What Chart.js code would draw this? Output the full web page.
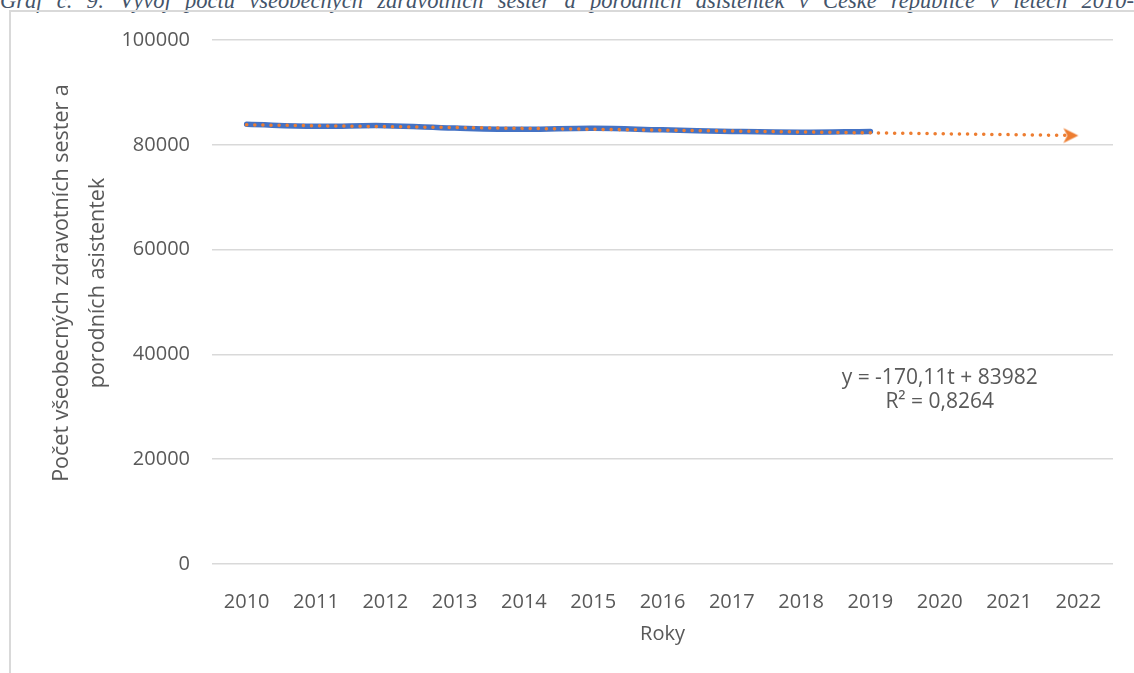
<!DOCTYPE html>
<html lang="cs">
<head>
<meta charset="utf-8">
<script src="https://cdn.jsdelivr.net/npm/chart.js@4/dist/chart.umd.min.js"></script>
<style>
  html, body { margin: 0; padding: 0; background: #fff; overflow: hidden; }
  #wrap { position: relative; width: 1134px; height: 673px; overflow: hidden; }
  #caption {
    position: absolute; left: 0; top: -12px; width: 1134px;
    font: italic 22.5px "Liberation Serif", "DejaVu Serif", serif;
    line-height: 26px; color: #44546A; white-space: nowrap;
    text-align: justify; text-align-last: justify;
  }
  #frame {
    position: absolute; left: 9px; top: 10px; right: -4px; bottom: -4px;
    border-top: 2px solid #D9D9D9; border-left: 2px solid #D9D9D9;
  }
  #chart { position: absolute; left: 0; top: 0; }
</style>
</head>
<body>
<div id="wrap">
  <div id="caption">Graf č. 9: Vývoj počtu všeobecných zdravotních sester a porodních asistentek v České republice v letech 2010-</div>
  <div id="frame"></div>
  <canvas id="chart" width="1134" height="673"></canvas>
</div>
<script>
// roky (osa x) – 2020-2022 jen pro prognózu trendu
const years = ['2010', '2011', '2012', '2013', '2014', '2015', '2016', '2017', '2018', '2019', '2020', '2021', '2022'];
// počet sester a porodních asistentek
const nurses = [83900, 83550, 83650, 83200, 82950, 83150, 82850, 82550, 82400, 82550];
// lineární trend: začátek (2010) a konec (2022)
const trendStart = 83810;
const trendEnd = 81770;
const yTicks = [0, 20000, 40000, 60000, 80000, 100000];
const yTitle = ['Počet všeobecných zdravotních sester a', 'porodních asistentek'];
const xTitle = 'Roky';
const equation = ['y = -170,11t + 83982', 'R² = 0,8264'];

const BLUE = '#4472C4';
const ORANGE = '#ED7D31';
const GREY = '#595959';
const FONT = '"Open Sans", "Noto Sans", sans-serif';

const trendData = years.map((_, i) => i === 0 ? trendStart : (i === years.length - 1 ? trendEnd : null));

// šipka na konci trendu – hrot je ve středu obrázku, aby končil přesně na bodě
const arrow = document.createElement('canvas');
arrow.width = 32; arrow.height = 18;
(function () {
  const c = arrow.getContext('2d');
  c.fillStyle = ORANGE;
  c.beginPath();
  c.moveTo(16, 9);
  c.lineTo(1, 1.5);
  c.lineTo(5, 9);
  c.lineTo(1, 16.5);
  c.closePath();
  c.fill();
})();
const arrowStyle = years.map((_, i) => i === years.length - 1 ? arrow : 'circle');
const arrowRadius = years.map((_, i) => i === years.length - 1 ? 8 : 0);

const extraText = {
  id: 'extraText',
  afterDraw(chart) {
    const { ctx, chartArea, scales } = chart;
    ctx.save();
    ctx.fillStyle = GREY;
    ctx.textAlign = 'center';
    ctx.textBaseline = 'middle';
    // rovnice trendu
    ctx.font = '21px ' + FONT;
    const ex = scales.x.getPixelForValue(10);
    ctx.fillText(equation[0], ex, chartArea.top + 338);
    ctx.fillText(equation[1], ex, chartArea.top + 362);
    // popisek osy y (dva řádky, svisle)
    ctx.font = '21.5px ' + FONT;
    ctx.translate(62, chartArea.top + 243);
    ctx.rotate(-Math.PI / 2);
    ctx.fillText(yTitle[0], 0, 0);
    ctx.fillText(yTitle[1], 0, 36);
    ctx.restore();
  }
};

new Chart(document.getElementById('chart').getContext('2d'), {
  type: 'line',
  data: {
    labels: years,
    datasets: [
      {
        label: 'Trend',
        data: trendData,
        spanGaps: true,
        borderColor: ORANGE,
        backgroundColor: ORANGE,
        borderWidth: 3.5,
        borderDash: [0.1, 8],
        borderCapStyle: 'round',
        tension: 0,
        pointStyle: arrowStyle,
        pointRadius: arrowRadius,
        pointBorderWidth: 0,
        pointBackgroundColor: ORANGE,
        order: 0
      },
      {
        label: 'Počet',
        data: nurses,
        borderColor: BLUE,
        borderWidth: 5.5,
        borderCapStyle: 'round',
        tension: 0.4,
        pointRadius: 0,
        order: 1
      }
    ]
  },
  options: {
    responsive: false,
    animation: false,
    events: [],
    layout: { padding: { left: 0, right: 21, top: 40, bottom: 0 } },
    plugins: { legend: { display: false }, tooltip: { enabled: false } },
    scales: {
      x: {
        offset: true,
        grid: { display: false, offset: true },
        border: { display: false },
        ticks: { color: GREY, font: { family: FONT, size: 20 }, padding: 18, maxRotation: 0, autoSkip: false },
        title: { display: true, text: xTitle, color: GREY, font: { family: FONT, size: 20 }, padding: { top: 0, bottom: 27 } },
        afterFit(s) { s.height = 109; }
      },
      y: {
        min: 0,
        max: 100000,
        border: { display: false },
        grid: { color: '#D9D9D9', lineWidth: 1.5, drawTicks: false },
        afterBuildTicks(s) { s.ticks = yTicks.map(v => ({ value: v })); },
        ticks: { color: GREY, font: { family: FONT, size: 20 }, padding: 22, callback: v => String(v) },
        afterFit(s) { s.width = 212; }
      }
    }
  },
  plugins: [extraText]
});
</script>
</body>
</html>
